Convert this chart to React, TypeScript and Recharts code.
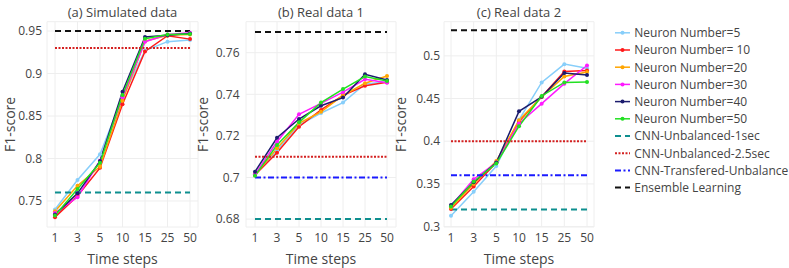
// @ts-nocheck
import React from 'react';
import { LineChart, Line, XAxis, YAxis, CartesianGrid } from 'recharts';

// time step categories shared by the three panels
const STEPS = ['1', '3', '5', '10', '15', '25', '50'];

// (a) Simulated data
const SIM_N5 = [0.740, 0.7747, 0.805, 0.872, 0.927, 0.9375, 0.9395];
const SIM_N10 = [0.731, 0.756, 0.789, 0.8638, 0.926, 0.9445, 0.9405];
const SIM_N20 = [0.738, 0.768, 0.7904, 0.868, 0.938, 0.945, 0.946];
const SIM_N30 = [0.736, 0.7544, 0.7974, 0.872, 0.9375, 0.946, 0.948];
const SIM_N40 = [0.734, 0.759, 0.797, 0.8786, 0.943, 0.945, 0.947];
const SIM_N50 = [0.733, 0.764, 0.795, 0.8747, 0.941, 0.946, 0.9465];

// (b) Real data 1
const R1_N5 = [0.7015, 0.713, 0.7252, 0.731, 0.736, 0.745, 0.746];
const R1_N10 = [0.7012, 0.7119, 0.7244, 0.7325, 0.7395, 0.7441, 0.7458];
const R1_N20 = [0.7012, 0.714, 0.726, 0.7316, 0.7395, 0.7453, 0.7488];
const R1_N30 = [0.7015, 0.7172, 0.7304, 0.7356, 0.741, 0.7472, 0.7455];
const R1_N40 = [0.7028, 0.7191, 0.7281, 0.7345, 0.7384, 0.7496, 0.7469];
const R1_N50 = [0.7008, 0.7156, 0.7265, 0.736, 0.7425, 0.7485, 0.7464];

// (c) Real data 2
const R2_N5 = [0.3127, 0.3407, 0.371, 0.425, 0.4689, 0.4903, 0.4856];
const R2_N10 = [0.3205, 0.347, 0.375, 0.423, 0.452, 0.4817, 0.4829];
const R2_N20 = [0.322, 0.350, 0.3768, 0.4246, 0.452, 0.4759, 0.481];
const R2_N30 = [0.324, 0.3555, 0.375, 0.4207, 0.444, 0.4674, 0.4887];
const R2_N40 = [0.3252, 0.352, 0.375, 0.435, 0.452, 0.4798, 0.4775];
const R2_N50 = [0.3236, 0.3528, 0.374, 0.4176, 0.453, 0.4689, 0.4693];

// baselines per panel (a, b, c)
const CNN_1SEC = [0.76, 0.68, 0.32];
const CNN_25SEC = [0.93, 0.71, 0.40];
const CNN_TRANSFER = [null, 0.70, 0.36];
const ENSEMBLE = [0.95, 0.77, 0.53];

const TEXT = '#444';
const FONT = '"Open Sans", sans-serif';

const NEURONS = [
  { key: 'n5', name: 'Neuron Number=5', color: '#87cefa' },
  { key: 'n10', name: 'Neuron Number= 10', color: '#ff1a1a' },
  { key: 'n20', name: 'Neuron Number=20', color: '#ffa500' },
  { key: 'n30', name: 'Neuron Number=30', color: '#ff1aff' },
  { key: 'n40', name: 'Neuron Number=40', color: '#1c1c6e' },
  { key: 'n50', name: 'Neuron Number=50', color: '#22e022' },
];

const BASELINES = [
  { key: 'one', name: 'CNN-Unbalanced-1sec', color: '#0e8f8f', dash: '6 4' },
  { key: 'two', name: 'CNN-Unbalanced-2.5sec', color: '#d42020', dash: '2 1.5' },
  { key: 'tr', name: 'CNN-Transfered-Unbalance', color: '#1a1aff', dash: '6 2.5 2 2.5' },
  { key: 'ens', name: 'Ensemble Learning', color: '#111', dash: '6 4' },
];

function rows(p, series) {
  return STEPS.map((t, i) => ({
    t,
    n5: series[0][i],
    n10: series[1][i],
    n20: series[2][i],
    n30: series[3][i],
    n40: series[4][i],
    n50: series[5][i],
    one: CNN_1SEC[p],
    two: CNN_25SEC[p],
    tr: CNN_TRANSFER[p],
    ens: ENSEMBLE[p],
  }));
}

// left edge of each svg + y axis width => plot left edge (47, 246, 444)
const PANELS = [
  {
    title: '(a) Simulated data', left: 0, width: 200, yw: 47, pad: 8, tm: 5, lab: 10,
    domain: [0.7194, 0.961], ticks: [0.75, 0.8, 0.85, 0.9, 0.95],
    data: rows(0, [SIM_N5, SIM_N10, SIM_N20, SIM_N30, SIM_N40, SIM_N50]),
  },
  {
    title: '(b) Real data 1', left: 190, width: 208, yw: 56, pad: 9, tm: 6.5, lab: 13,
    domain: [0.6762, 0.7749], ticks: [0.68, 0.7, 0.72, 0.74, 0.76],
    data: rows(1, [R1_N5, R1_N10, R1_N20, R1_N30, R1_N40, R1_N50]),
  },
  {
    title: '(c) Real data 2', left: 388, width: 208, yw: 56, pad: 7, tm: 4, lab: 13,
    domain: [0.2995, 0.54], ticks: [0.3, 0.35, 0.4, 0.45, 0.5],
    data: rows(2, [R2_N5, R2_N10, R2_N20, R2_N30, R2_N40, R2_N50]),
  },
];

function Panel({ cfg }) {
  const plotCenter = cfg.left + cfg.yw + (cfg.width - 2 - cfg.yw) / 2;
  return (
    <>
      <div style={{ position: 'absolute', left: plotCenter - 100, width: 200, top: 4, lineHeight: '16px', textAlign: 'center', fontSize: 13, color: TEXT }}>
        {cfg.title}
      </div>
      <div style={{ position: 'absolute', left: cfg.left, top: 0 }}>
        <LineChart width={cfg.width} height={268} data={cfg.data} margin={{ top: 21.7, right: 2, bottom: 0, left: 0 }}>
          <CartesianGrid stroke="#eeeeee" strokeWidth={1} />
          <XAxis
            dataKey="t"
            interval={0}
            tickLine={false}
            axisLine={false}
            tickSize={0}
            tickMargin={6.7}
            height={41}
            padding={{ left: cfg.pad, right: cfg.pad }}
            tick={{ fontSize: 12, fill: TEXT, fontFamily: FONT }}
            label={{ value: 'Time steps', position: 'insideBottom', offset: 4.5, fill: TEXT, fontSize: 14, fontFamily: FONT }}
          />
          <YAxis
            width={cfg.yw}
            domain={cfg.domain}
            ticks={cfg.ticks}
            allowDataOverflow
            tickLine={false}
            axisLine={false}
            tickSize={0}
            tickMargin={cfg.tm}
            tick={{ fontSize: 12, fill: TEXT, fontFamily: FONT }}
            label={{ value: 'F1-score', angle: -90, position: 'insideLeft', offset: cfg.lab, fill: TEXT, fontSize: 14, fontFamily: FONT, style: { textAnchor: 'middle' } }}
          />
          {NEURONS.map((s) => (
            <Line
              key={s.key}
              type="linear"
              dataKey={s.key}
              stroke={s.color}
              strokeWidth={1.5}
              dot={{ r: 2, fill: s.color, stroke: s.color, strokeWidth: 0 }}
              activeDot={false}
              isAnimationActive={false}
            />
          ))}
          {BASELINES.map((s) => (
            <Line
              key={s.key}
              type="linear"
              dataKey={s.key}
              stroke={s.color}
              strokeWidth={2}
              strokeDasharray={s.dash}
              dot={false}
              activeDot={false}
              isAnimationActive={false}
            />
          ))}
        </LineChart>
      </div>
    </>
  );
}

function Legend() {
  const items = [...NEURONS, ...BASELINES];
  return (
    <svg style={{ position: 'absolute', left: 600, top: 0 }} width={189} height={268}>
      {items.map((s, i) => {
        const y = 32.8 + i * 17.2;
        return (
          <g key={s.key}>
            <line x1={15} x2={30} y1={y} y2={y} stroke={s.color} strokeWidth={s.dash ? 2 : 1.5} strokeDasharray={s.dash} />
            {!s.dash && <circle cx={22.5} cy={y} r={2} fill={s.color} />}
            <text x={34.3} y={y + 4.3} fontSize={12} fill={TEXT} fontFamily={FONT}>{s.name}</text>
          </g>
        );
      })}
    </svg>
  );
}

export default function App() {
  return (
    <div style={{ position: 'absolute', left: 0, top: 0, width: 789, height: 268, background: '#fff', fontFamily: FONT, overflow: 'hidden' }}>
      {PANELS.map((p) => (
        <Panel key={p.title} cfg={p} />
      ))}
      <Legend />
    </div>
  );
}
